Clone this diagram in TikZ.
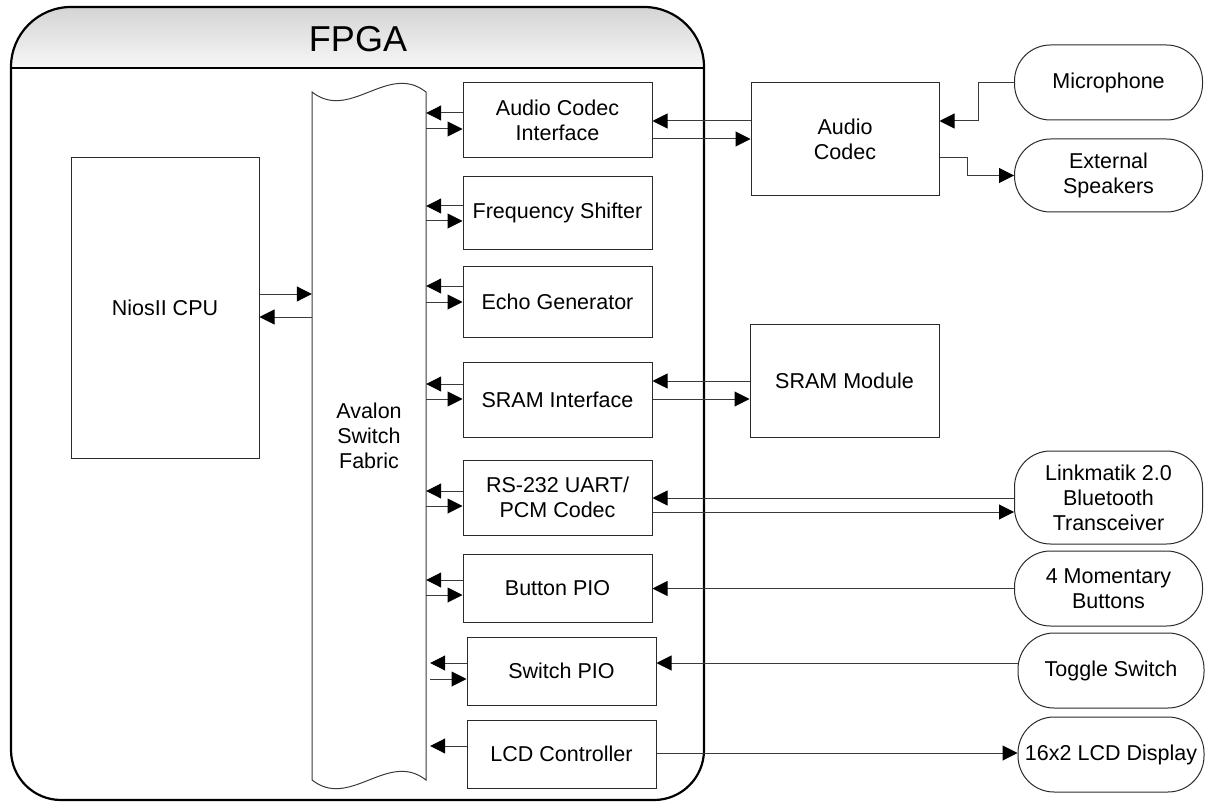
\documentclass[tikz,border=0pt]{standalone}
\usepackage{fontspec}
\setmainfont{Liberation Sans}
\usepackage{tikz}
\usetikzlibrary{arrows.meta, calc}
\definecolor{boxline}{HTML}{2B2B2B}
\definecolor{wireline}{HTML}{3A3A3A}
\definecolor{headtop}{HTML}{D4D4D4}
\definecolor{headbot}{HTML}{F7F7F7}
\tikzset{
  modbox/.style={draw=boxline, line width=1pt, minimum width=189pt, align=center,
    inner sep=0pt, font=\fontsize{21.5}{25}\selectfont},
  pill/.style={draw=boxline, line width=1pt, rounded corners=36pt, minimum width=188pt,
    minimum height=75pt, align=center, inner sep=0pt, font=\fontsize{21.5}{25}\selectfont},
  link/.style={-{Triangle[length=15pt,width=15pt,black]}, draw=wireline, line width=1pt}
}
\begin{document}
\begin{tikzpicture}[x=1pt, y=-1pt]
\useasboundingbox (0,0) rectangle (1206,802);
% FPGA frame
\fill[top color=headtop, bottom color=headbot] (11,68) -- (11,67) .. controls (11,33.9) and (37.9,7) .. (71,7)
  -- (644,7) .. controls (677.1,7) and (704,33.9) .. (704,67) -- (704,68) -- cycle;
\draw[black, line width=2.2pt] (11,67) -- (11,750) .. controls (11,777.6) and (33.4,800) .. (61,800)
  -- (654,800) .. controls (681.6,800) and (704,777.6) .. (704,750) -- (704,67)
  .. controls (704,33.9) and (677.1,7) .. (644,7) -- (71,7) .. controls (37.9,7) and (11,33.9) .. (11,67) -- cycle;
\draw[black, line width=1.6pt] (11,68) -- (704,68);
\node[font=\fontsize{36}{40}\selectfont] (fpga) at (358,39) {FPGA};
% switch fabric
\draw[draw=wireline, line width=1pt] (312,92) .. controls (350,122) and (388,62) .. (426,92)
  -- (426,780) .. controls (388,750) and (350,810) .. (312,780) -- cycle;
\node[minimum width=114pt, minimum height=688pt, inner sep=0pt, align=center,
  font=\fontsize{21.5}{25}\selectfont] (fab) at (369,436) {Avalon\\Switch\\Fabric};
% cpu
\node[modbox, minimum width=188pt, minimum height=300pt] (cpu) at (165,308) {NiosII CPU};
% modules on the fabric
\node[modbox, minimum height=75pt] (aci) at (557.5,120.5) {Audio Codec\\Interface};
\node[modbox, minimum height=72pt] (frq) at (557.5,213) {Frequency Shifter};
\node[modbox, minimum height=71pt] (echo) at (557.5,301.5) {Echo Generator};
\node[modbox, minimum height=75pt] (sri) at (557.5,399.5) {SRAM Interface};
\node[modbox, minimum height=75pt] (rs) at (557.5,497.5) {RS-232 UART/\\PCM Codec};
\node[modbox, minimum height=68pt] (btn) at (557.5,588) {Button PIO};
\node[modbox, minimum height=68pt] (swp) at (561.5,671) {Switch PIO};
\node[modbox, minimum height=68pt] (lcdc) at (561.5,754) {LCD Controller};
% off-chip parts
\node[modbox, minimum width=188pt, minimum height=113pt] (acodec) at (845,139.5) {Audio\\Codec};
\node[modbox, minimum height=113pt] (sram) at (844.5,380.5) {SRAM Module};
\node[pill] (mic) at (1108.5,82.5) {Microphone};
\node[pill, minimum height=73pt] (spk) at (1108.5,175.5) {External\\Speakers};
\node[pill, minimum height=93pt] (blt) at (1108.5,497.5) {Linkmatik 2.0\\Bluetooth\\Transceiver};
\node[pill] (mbt) at (1108.5,588.5) {4 Momentary\\Buttons};
\node[pill, minimum width=186pt] (tgl) at (1111,670.5) {Toggle Switch};
\node[pill, minimum width=186pt] (lcd) at (1111,754.5) {16x2 LCD Display};
% cpu <-> fabric
\draw[link] (cpu.east |- 0,294) -- (fab.west |- 0,294);
\draw[link] (fab.west |- 0,317) -- (cpu.east |- 0,317);
% fabric <-> modules
\foreach \m/\a/\b in {aci/113/129, frq/206/221, echo/286/302, sri/384/399, rs/491/506, btn/580/595}{
  \draw[link] (\m.west |- 0,\a) -- (fab.east |- 0,\a);
  \draw[link] (fab.east |- 0,\b) -- (\m.west |- 0,\b);
}
\draw[link] (swp.west |- 0,663) -- ($(fab.east |- 0,663)+(4,0)$);
\draw[link] ($(fab.east |- 0,679)+(4,0)$) -- (swp.west |- 0,679);
\draw[link] (lcdc.west |- 0,746) -- ($(fab.east |- 0,746)+(4,0)$);
% outside links
\draw[link] (acodec.west |- 0,121) -- (aci.east |- 0,121);
\draw[link] (aci.east |- 0,139) -- (acodec.west |- 0,139);
\draw[link] (mic.west) -- (mic.west -| 978,0) |- (acodec.east |- 0,121);
\draw[link] (acodec.east |- 0,158) -| (spk.west -| 967,0) -- (spk.west);
\draw[link] (sram.west |- 0,381) -- (sri.east |- 0,381);
\draw[link] (sri.east |- 0,399) -- (sram.west |- 0,399);
\draw[link] (blt.west |- 0,498) -- (rs.east |- 0,498);
\draw[link] (rs.east |- 0,512) -- (blt.west |- 0,512);
\draw[link] (mbt.west) -- (btn.east |- mbt.west);
\draw[link] (tgl.west |- 0,663) -- (swp.east |- 0,663);
\draw[link] (lcdc.east |- 0,753) -- (lcd.west |- 0,753);
\end{tikzpicture}
\end{document}
